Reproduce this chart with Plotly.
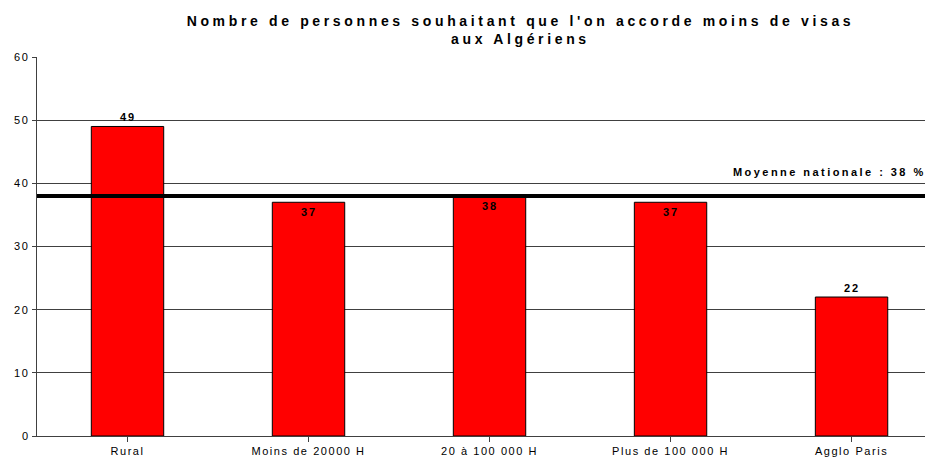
import plotly.graph_objects as go

categories = ["Rural", "Moins de 20000 H", "20 à 100 000 H", "Plus de 100 000 H", "Agglo Paris"]
values = [49, 37, 38, 37, 22]
label_inside = [False, True, True, True, False]
mean_value = 38
mean_label = "Moyenne nationale : 38 %"
y_ticks = [0, 10, 20, 30, 40, 50, 60]
title_lines = ["Nombre de personnes souhaitant que l'on accorde moins de visas", "aux Algériens"]

FONT = "Liberation Sans"


def spaced(t, px, bold=False):
    s = f'<span style="letter-spacing:{px}px">{t}</span>'
    return f"<b>{s}</b>" if bold else s


fig = go.Figure()
fig.add_trace(go.Bar(
    x=list(range(len(categories))),
    y=values,
    width=0.40,
    marker=dict(color="#FF0000", line=dict(color="#000000", width=1)),
    hoverinfo="skip",
))

for i, (v, inside) in enumerate(zip(values, label_inside)):
    fig.add_annotation(
        x=i, y=v, xref="x", yref="y",
        text=spaced(v, 2, bold=True), showarrow=False,
        yanchor="top" if inside else "bottom",
        yshift=-2 if inside else 1,
        font=dict(family=FONT, size=11, color="#000000"),
    )

fig.add_shape(type="line", xref="paper", yref="y", x0=0, x1=1,
              y0=mean_value, y1=mean_value,
              line=dict(color="#000000", width=4))
fig.add_annotation(
    x=0.994, y=mean_value, xref="paper", yref="y",
    text=spaced(mean_label, 2.45, bold=True), showarrow=False,
    xanchor="right", yanchor="middle", yshift=24,
    font=dict(family=FONT, size=11, color="#000000"),
)

fig.update_layout(
    width=925, height=453,
    margin=dict(l=29, r=0, t=49, b=25),
    paper_bgcolor="#FFFFFF", plot_bgcolor="#FFFFFF",
    showlegend=False,
    title=dict(text="<br>".join(spaced(t, 3.65, bold=True) for t in title_lines),
               x=0.554, xanchor="center",
               y=0.961, yanchor="top",
               font=dict(family=FONT, size=14, color="#000000")),
    bargap=0.6,
)
fig.update_xaxes(
    range=[-0.5, 4.45],
    tickmode="array", tickvals=list(range(len(categories))),
    ticktext=[spaced(c, 1.55) for c in categories],
    tickson="boundaries", ticks="outside", ticklen=5, tickcolor="#404040",
    showline=True, linecolor="#404040", linewidth=1,
    showgrid=False, zeroline=False,
    tickfont=dict(family=FONT, size=11, color="#000000"),
)
fig.update_yaxes(
    range=[0, 60], tickmode="array", tickvals=y_ticks,
    ticktext=[spaced(t, 1.8) for t in y_ticks],
    ticks="outside", ticklen=4, tickcolor="#404040",
    showline=True, linecolor="#404040", linewidth=1,
    showgrid=True, gridcolor="#404040", gridwidth=1,
    zeroline=False,
    tickfont=dict(family=FONT, size=11, color="#000000"),
)

fig.write_html("out.html")
